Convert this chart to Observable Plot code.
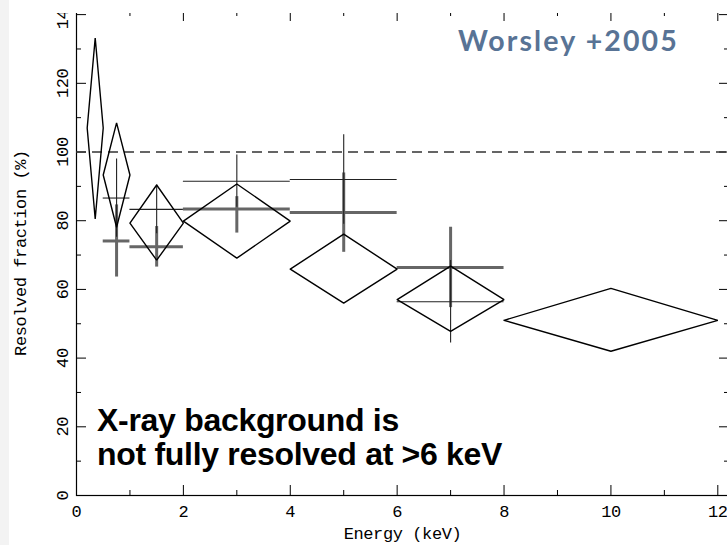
<!DOCTYPE html>
<html>
<head>
<meta charset="utf-8">
<script src="https://cdn.jsdelivr.net/npm/d3@7"></script>
<script src="https://cdn.jsdelivr.net/npm/@observablehq/plot@0.6"></script>
<style>
  html, body { margin: 0; padding: 0; background: #fff; overflow: hidden; }
  #wrap { position: relative; width: 727px; height: 545px; overflow: hidden; background: #fff; }
  #chart { position: absolute; left: 0; top: 0; width: 740px; }
  #chart svg { max-width: none !important; }
  #chart svg text { letter-spacing: -0.4px; }
  #topmask { position: absolute; left: 0; top: 0; width: 727px; height: 13px; background: #fff; }
  #leftstrip { position: absolute; left: 0; top: 0; width: 9px; height: 545px; background: #f3f3f3; }
  #note { position: absolute; left: 97px; top: 403px; font-family: "Liberation Sans", Arial, sans-serif;
          font-weight: bold; font-size: 32px; line-height: 34px; letter-spacing: -0.3px; color: #000; white-space: nowrap; }
  #ref { position: absolute; left: 458px; top: 23px; font-family: Lato, "Open Sans", sans-serif;
         font-weight: bold; font-size: 28.5px; letter-spacing: 2.1px; color: #587395; white-space: nowrap; }
</style>
</head>
<body>
<div id="wrap">
  <div id="chart"></div>
  <div id="topmask"></div>
  <div id="leftstrip"></div>
  <div id="note">X-ray background is<br>not fully resolved at &gt;6 keV</div>
  <div id="ref">Worsley +2005</div>
</div>
<script>
// ---- tick values ----
const xMajor = [0, 2, 4, 6, 8, 10, 12];
const xMinor = [1, 3, 5, 7, 9, 11];
const yMajor = [0, 20, 40, 60, 80, 100, 120, 140];
const yMinor = [10, 30, 50, 70, 90, 110, 130];
const xTitle = ["Energy (keV)"];
const yTitle = ["Resolved fraction (%)"];

// ---- crosses: energy bins ----
const binLo  = [0.5, 1, 2, 4, 6];
const binHi  = [1, 2, 4, 6, 8];
const binMid = [0.75, 1.5, 3, 5, 7];

// thin crosses
const thinVal = [86.6, 83.3, 91.5, 92.0, 56.4];
const thinLo  = [75.2, 76.2, 83.9, 79.0, 44.4];
const thinHi  = [98.0, 90.4, 99.1, 105.0, 68.4];

// thick grey crosses
const thickVal = [74.1, 72.4, 83.4, 82.4, 66.4];
const thickLo  = [63.6, 66.5, 76.4, 70.8, 54.7];
const thickHi  = [84.6, 78.3, 87.0, 93.9, 78.1];

// ---- diamonds ----
const dLo   = [0.2, 0.5, 1, 2, 4, 6, 8];
const dHi   = [0.5, 1, 2, 4, 6, 8, 12];
const dMid  = [0.35, 0.75, 1.5, 3, 5, 7, 10];
const dVal  = [107.0, 93.3, 79.3, 79.9, 65.9, 57.0, 51.0];
const dBot  = [80.5, 78.1, 68.5, 69.1, 56.0, 47.8, 42.0];
const dTop  = [133.2, 108.5, 90.4, 90.7, 76.1, 66.8, 60.3];

const fullLevel = [100];

// ---- build tables ----
const thin = binMid.map((m, i) => ({x: m, x1: binLo[i], x2: binHi[i], y: thinVal[i], y1: thinLo[i], y2: thinHi[i]}));
const thick = binMid.map((m, i) => ({x: m, x1: binLo[i], x2: binHi[i], y: thickVal[i], y1: thickLo[i], y2: thickHi[i]}));
const diamondPts = [];
dMid.forEach((m, i) => {
  [[dLo[i], dVal[i]], [m, dTop[i]], [dHi[i], dVal[i]], [m, dBot[i]], [dLo[i], dVal[i]]]
    .forEach(([x, y]) => diamondPts.push({id: i, x, y}));
});

const blank = () => "";

const chart = Plot.plot({
  width: 740,
  height: 545,
  marginLeft: 76,
  marginRight: 12,
  marginTop: 10,
  marginBottom: 50,
  style: {fontFamily: "'Liberation Mono', 'DejaVu Sans Mono', monospace", fontSize: "17px", color: "#000", background: "transparent"},
  x: {domain: [0, 12.2]},
  y: {domain: [0, 141.2]},
  marks: [
    // tick labels
    Plot.axisX({ticks: xMajor, tickSize: 0, tickPadding: 9, tickFormat: d => String(d), label: null}),
    Plot.axisY({ticks: yMajor, tickSize: 0, tickPadding: 9, tickRotate: -90, tickFormat: d => String(d), label: null}),
    // axis titles
    Plot.text(xTitle, {text: d => d, frameAnchor: "bottom", textAnchor: "middle", dy: 43, fontSize: 17, fill: "#000"}),
    Plot.text(yTitle, {text: d => d, frameAnchor: "left", textAnchor: "middle", dx: -56, rotate: -90, fontSize: 17, fill: "#000"}),
    // inward ticks on all four sides
    Plot.axisX({ticks: xMajor, tickSize: -10, tickFormat: blank, label: null}),
    Plot.axisX({ticks: xMinor, tickSize: -5, tickFormat: blank, label: null}),
    Plot.axisX({anchor: "top", ticks: xMajor, tickSize: -10, tickFormat: blank, label: null}),
    Plot.axisX({anchor: "top", ticks: xMinor, tickSize: -5, tickFormat: blank, label: null}),
    Plot.axisY({ticks: yMajor, tickSize: -10, tickFormat: blank, label: null}),
    Plot.axisY({ticks: yMinor, tickSize: -5, tickFormat: blank, label: null}),
    Plot.axisY({anchor: "right", ticks: yMajor, tickSize: -10, tickFormat: blank, label: null}),
    Plot.axisY({anchor: "right", ticks: yMinor, tickSize: -5, tickFormat: blank, label: null}),
    Plot.frame({stroke: "#000", strokeWidth: 1.2}),
    // 100% level
    Plot.ruleY(fullLevel, {stroke: "#333", strokeWidth: 1.4, strokeDasharray: "10,6"}),
    // thick grey crosses
    Plot.ruleY(thick, {x1: "x1", x2: "x2", y: "y", stroke: "#666", strokeWidth: 3}),
    Plot.ruleX(thick, {x: "x", y1: "y1", y2: "y2", stroke: "#666", strokeWidth: 3}),
    // thin crosses
    Plot.ruleY(thin, {x1: "x1", x2: "x2", y: "y", stroke: "#222", strokeWidth: 1.1}),
    Plot.ruleX(thin, {x: "x", y1: "y1", y2: "y2", stroke: "#222", strokeWidth: 1.1}),
    // diamonds
    Plot.line(diamondPts, {x: "x", y: "y", z: "id", stroke: "#000", strokeWidth: 1.4, strokeLinejoin: "miter"})
  ]
});
document.getElementById("chart").appendChild(chart);
</script>
</body>
</html>
